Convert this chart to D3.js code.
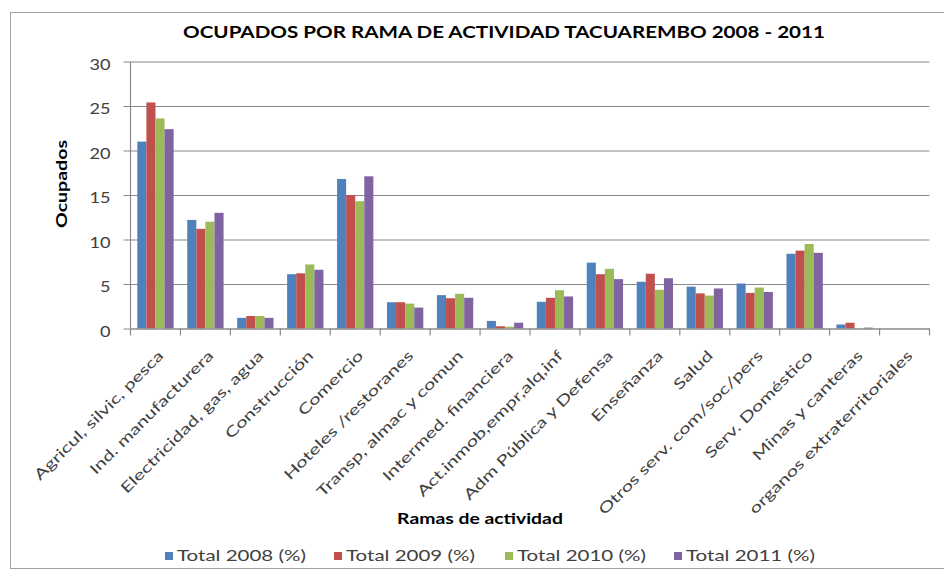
<!DOCTYPE html>
<html><head><meta charset="utf-8">
<script src="https://cdn.jsdelivr.net/npm/d3@7/dist/d3.min.js"></script>
<style>
html,body{margin:0;padding:0;background:#fff;}
svg{display:block;font-family:Lato,"Open Sans",sans-serif;}
</style></head>
<body>
<svg id="chart" width="944" height="573"></svg>
<script>
const categories = ["Agricul, silvic, pesca","Ind. manufacturera","Electricidad, gas, agua","Construcción","Comercio","Hoteles /restoranes","Transp, almac y comun","Intermed. financiera","Act.inmob,empr,alq,inf","Adm Pública y Defensa","Enseñanza","Salud","Otros serv. com/soc/pers","Serv. Doméstico","Minas y canteras","organos extraterritoriales"];
const seriesNames = ["Total 2008 (%)","Total 2009 (%)","Total 2010 (%)","Total 2011 (%)"];
const total2008 = [21.0, 12.2, 1.2, 6.1, 16.8, 2.95, 3.75, 0.85, 3.0, 7.4, 5.25, 4.7, 5.05, 8.4, 0.45, 0];
const total2009 = [25.4, 11.2, 1.4, 6.2, 15.0, 2.95, 3.4, 0.25, 3.45, 6.1, 6.15, 3.95, 4.0, 8.75, 0.65, 0];
const total2010 = [23.6, 12.0, 1.4, 7.2, 14.3, 2.8, 3.9, 0.2, 4.3, 6.7, 4.35, 3.7, 4.6, 9.5, 0, 0];
const total2011 = [22.4, 13.0, 1.2, 6.6, 17.1, 2.35, 3.45, 0.65, 3.6, 5.55, 5.65, 4.5, 4.1, 8.5, 0.1, 0];
const yTicks = [0, 5, 10, 15, 20, 25, 30];
const colors = ["#4F81BD","#C0504D","#9BBB59","#8064A2"];
const titleText = "OCUPADOS POR RAMA DE ACTIVIDAD TACUAREMBO 2008 - 2011";
const xTitle = "Ramas de actividad";
const yTitle = "Ocupados";

const seriesValues = [total2008, total2009, total2010, total2011];
const svg = d3.select("#chart");
const pL = 130.5, pR = 929.5, pT = 61.5, pB = 328.5;
const textColor = "#404040", gridColor = "#8a8a8a";

// outer frame
svg.append("rect").attr("x",10.5).attr("y",12.5).attr("width",960).attr("height",556)
  .attr("fill","none").attr("stroke","#a0a0a0");

const x0 = d3.scaleBand().domain(categories).range([pL, pR]).paddingInner(0).paddingOuter(0);
const bw = x0.bandwidth();
const x1 = d3.scaleBand().domain(seriesNames).range([bw*0.75/5.5, bw*4.75/5.5]).padding(0);
const y = d3.scaleLinear().domain([0,30]).range([pB, pT]);

function stretch(sel, target){
  sel.each(function(){
    const w = this.getComputedTextLength();
    if (w > 0) {
      const k = target / w;
      const t = this.getAttribute("transform") || "";
      this.setAttribute("transform", t + " scale(" + k + ",1)");
    }
  });
}

// gridlines + y axis
const yAxis = d3.axisLeft(y).tickValues(yTicks).tickSize(-(pR-pL)).tickPadding(20);
const gy = svg.append("g").attr("transform",`translate(${pL},0)`).call(yAxis);
gy.select(".domain").remove();
gy.selectAll(".tick line").attr("stroke",gridColor).attr("x1",-7).attr("stroke-width",1.2);
gy.selectAll(".tick text").attr("fill",textColor).attr("font-size",14.5).attr("dy","0.55em")
  .attr("font-family","Lato").attr("x",0)
  .attr("transform","translate(-20,0) scale(1.25,1)");
svg.append("line").attr("x1",pL).attr("x2",pL).attr("y1",pT).attr("y2",pB)
  .attr("stroke",gridColor).attr("stroke-width",1.2);

// bars
const groups = svg.append("g").selectAll("g").data(categories).join("g")
  .attr("transform", d => `translate(${x0(d)},0)`);
groups.selectAll("rect").data((d,i) => seriesNames.map((s,j) => ({s, v: seriesValues[j][i], j})))
  .join("rect")
  .attr("x", d => x1(d.s)).attr("width", x1.bandwidth())
  .attr("y", d => y(d.v)).attr("height", d => pB - y(d.v))
  .attr("fill", d => colors[d.j]);

// x axis
const xAxis = d3.axisBottom(x0).tickSize(0).tickFormat("");
const gx = svg.append("g").attr("transform",`translate(0,${pB})`).call(xAxis);
gx.select(".domain").attr("stroke",gridColor).attr("stroke-width",1.2);
gx.selectAll(".tick").remove();
const boundaries = d3.range(categories.length + 1).map(i => pL + i*bw);
svg.append("g").selectAll("line").data(boundaries).join("line")
  .attr("x1", d => d).attr("x2", d => d).attr("y1", pB).attr("y2", pB + 7)
  .attr("stroke", gridColor).attr("stroke-width",1.2);

// x labels
const labG = svg.append("g");
labG.selectAll("text").data(categories).join("text")
  .attr("transform", d => `translate(${x0(d) + bw/2 + 9},${pB + 28}) rotate(-45)`)
  .attr("text-anchor","end").attr("font-size",14.5).attr("fill",textColor)
  .text(d => d);
(function(){
  const first = labG.select("text").node();
  const k = 176 / first.getComputedTextLength();
  labG.selectAll("text").each(function(){
    this.setAttribute("transform", this.getAttribute("transform") + ` scale(${k},1)`);
  });
})();

// title
svg.append("text").attr("transform","translate(504,38)").attr("text-anchor","middle")
  .attr("font-weight","bold").attr("font-size",17.5).attr("fill","#000").text(titleText)
  .call(stretch, 642);

// axis titles
svg.append("text").attr("transform","translate(480,524)").attr("text-anchor","middle")
  .attr("font-weight","bold").attr("font-size",15).attr("fill","#000").text(xTitle)
  .call(stretch, 166);
svg.append("text").attr("transform","translate(67,184) rotate(-90)").attr("text-anchor","middle")
  .attr("font-weight","bold").attr("font-size",15).attr("fill","#000").text(yTitle)
  .call(stretch, 88);

// legend
const legendX = [165, 334, 505, 674];
const leg = svg.append("g").selectAll("g").data(seriesNames).join("g")
  .attr("transform",(d,i) => `translate(${legendX[i]},0)`);
leg.append("rect").attr("x",0).attr("y",552).attr("width",8).attr("height",8)
  .attr("fill",(d,i) => colors[i]);
leg.append("text").attr("transform","translate(12,561)").attr("font-size",15.5)
  .attr("fill",textColor).text(d => d).call(stretch, 129);
</script>
</body></html>
